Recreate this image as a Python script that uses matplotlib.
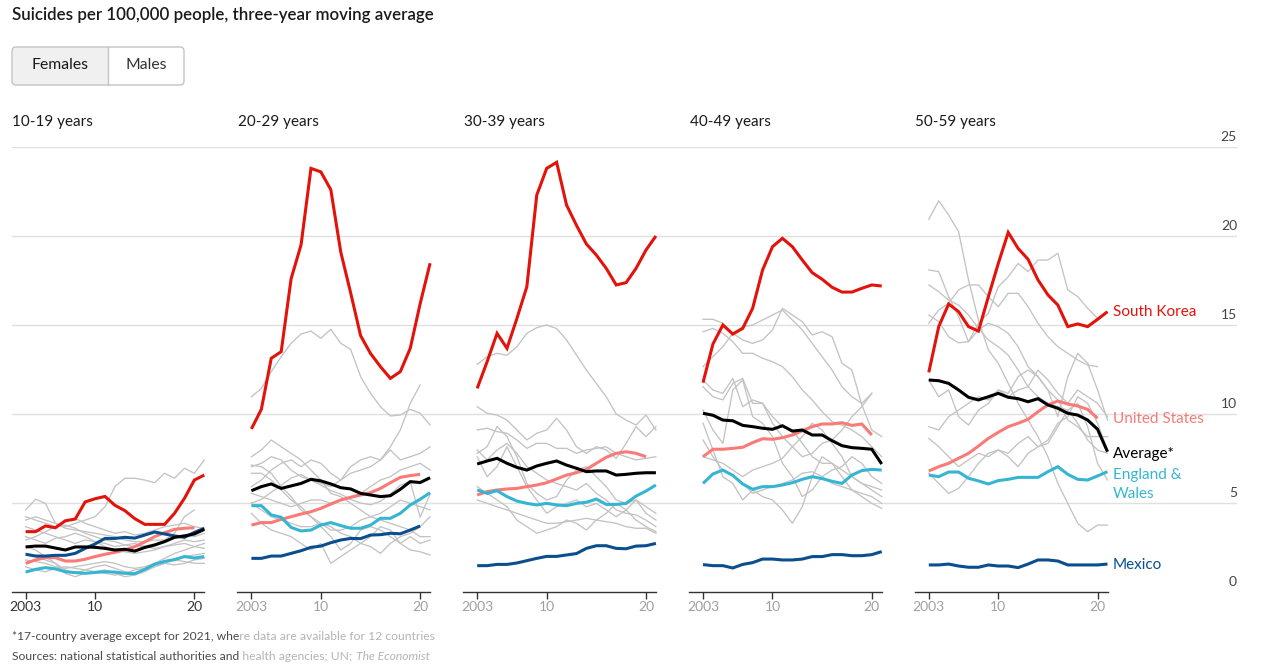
import matplotlib
matplotlib.use('Agg')
import matplotlib.pyplot as plt
from matplotlib.patches import FancyBboxPatch, Rectangle
from matplotlib.transforms import Bbox, TransformedBbox

plt.rcParams['font.family'] = ['Lato', 'DejaVu Sans']

# ---------------- data ----------------
years = list(range(2003, 2022))
panel_titles = ["10-19 years", "20-29 years", "30-39 years", "40-49 years", "50-59 years"]
tick_years = [2003, 2010, 2020]
tick_labels = ["2003", "10", "20"]
y_ticks = [0, 5, 10, 15, 20, 25]

# 10-19
sk1 = [3.39,3.39,3.71,3.61,4.0,4.1,5.06,5.24,5.37,4.87,4.57,4.12,3.80,3.80,3.80,4.42,5.26,6.29,6.57]
us1 = [1.61,1.80,1.93,1.93,1.74,1.74,1.84,1.99,2.12,2.23,2.36,2.55,2.81,3.11,3.33,3.52,3.58,3.61]
ew1 = [1.12,1.27,1.37,1.30,1.14,1.09,1.05,1.10,1.14,1.12,1.05,1.03,1.27,1.56,1.72,1.82,1.99,1.91,1.99]
mx1 = [2.12,2.02,2.02,2.06,2.06,2.17,2.45,2.70,3.01,3.01,3.07,3.03,3.20,3.37,3.26,3.15,3.07,3.35,3.58]
av1 = [2.53,2.58,2.58,2.47,2.36,2.53,2.53,2.51,2.45,2.36,2.40,2.30,2.50,2.64,2.83,3.07,3.15,3.26,3.52]
grey1 = [
    [4.04,4.23,4.04,3.86,3.67,3.86,4.04,4.23,4.79,5.92,6.39,6.39,6.29,6.14,6.67,6.39,6.95,6.67,7.42],
    [4.61,5.21,4.98,3.86,3.58,3.48,3.39,3.30,3.20,3.11,2.92,2.83,2.83,2.92,2.92,3.30,4.23,4.61],
    [4.23,4.04,3.86,3.67,3.95,4.14,3.86,3.67,3.48,3.30,3.39,3.20,3.30,3.48,3.67,3.76,3.86,3.67,3.58],
    [3.67,3.48,3.30,3.11,2.92,2.73,2.92,2.83,2.73,2.55,2.64,2.73,2.55,2.45,2.55,2.64,2.73,2.55,2.45],
    [3.11,2.92,2.73,3.02,3.11,3.30,3.11,2.83,2.55,2.36,2.26,2.17,2.26,2.36,2.55,2.73,2.92,2.83,2.92],
    [2.55,2.36,1.99,1.61,1.24,1.05,1.24,1.42,1.52,1.33,1.14,1.05,1.24,1.42,1.61,1.80,1.99,2.08,2.17],
    [2.17,1.99,1.80,1.61,1.05,0.86,1.05,1.14,1.24,1.05,0.86,0.95,1.14,1.42,1.61,1.52,1.61,1.80,1.89],
    [1.80,1.71,1.61,1.42,1.33,1.42,1.52,1.61,1.71,1.61,1.42,1.33,1.42,1.61,1.71,1.80,1.71,1.61,1.61],
    [1.42,1.24,1.14,1.33,1.42,1.33,1.24,1.14,1.05,0.95,1.05,1.24,1.33,1.61,1.89,2.17,2.36,2.55,2.73],
    [2.92,3.11,3.39,3.67,3.76,3.58,3.30,3.11,2.92,2.83,2.64,2.55,2.58,2.70,2.92,3.11,3.20,3.11,3.30],
]

# 20-29
sk2 = [9.16,10.26,13.13,13.5,17.6,19.5,23.8,23.6,22.6,19.1,16.8,14.4,13.4,12.66,12.0,12.38,13.69,16.2,18.47]
us2 = [3.76,3.90,3.90,4.08,4.23,4.38,4.51,4.70,4.94,5.17,5.32,5.45,5.58,5.82,6.14,6.44,6.54,6.61]
ew2 = [4.85,4.85,4.33,4.20,3.63,3.43,3.48,3.76,3.90,3.73,3.58,3.58,3.76,4.14,4.14,4.42,4.89,5.21,5.58]
mx2 = [1.89,1.89,2.02,2.02,2.17,2.32,2.51,2.58,2.77,2.92,3.01,3.00,3.20,3.22,3.30,3.27,3.48,3.71]
av2 = [5.69,5.92,6.07,5.82,5.96,6.10,6.33,6.24,6.07,5.86,5.79,5.54,5.45,5.36,5.41,5.77,6.20,6.15,6.42]
grey2 = [
    [10.97,11.44,12.38,13.22,13.97,14.49,14.66,14.25,14.76,13.97,13.63,12.10,11.16,10.41,9.89,9.94,10.26,10.04,9.38],
    [7.04,7.23,7.60,7.42,6.85,6.48,6.29,6.10,5.92,6.29,6.67,6.85,7.04,7.42,8.16,9.10,10.60,11.63],
    [7.60,7.98,8.54,8.16,7.79,7.42,6.85,6.29,5.54,5.36,4.98,4.61,4.23,4.04,3.86,3.67,3.48,3.11,3.11],
    [5.92,6.29,6.85,7.23,7.42,7.04,7.42,7.23,6.67,6.29,7.04,7.42,7.60,7.42,7.98,7.42,7.60,7.79,8.16],
    [7.13,7.04,6.67,5.92,5.36,4.61,4.23,3.86,3.48,3.48,3.67,4.04,4.23,4.42,4.79,5.17,4.98,4.79,4.61],
    [6.67,6.67,6.29,5.73,5.17,4.79,4.23,3.67,3.11,2.36,2.73,3.48,3.67,3.48,3.11,2.73,3.11,2.73,2.92],
    [5.54,5.36,5.17,4.98,4.79,4.98,5.17,5.17,4.98,5.17,5.36,5.54,5.92,6.29,6.48,6.85,7.04,7.23,6.85],
    [4.42,3.86,3.48,3.30,3.11,2.73,2.36,2.73,1.61,1.99,2.36,2.73,3.11,3.67,3.48,2.73,2.36,2.26,2.08],
    [4.98,4.61,4.23,4.04,3.86,3.67,3.67,3.86,3.67,3.30,3.11,2.73,2.55,2.17,2.73,3.11,3.30,3.67,4.23],
    [5.00,5.20,5.60,6.00,6.40,6.60,6.30,6.00,5.70,5.50,5.20,5.00,4.90,5.10,5.50,6.00,6.20,4.20,5.50],
]

# 30-39
sk3 = [11.44,12.94,14.53,13.69,15.37,17.15,22.3,23.8,24.14,21.74,20.6,19.55,18.93,18.18,17.25,17.38,18.18,19.21,20.0]
us3 = [5.45,5.64,5.73,5.79,5.82,5.92,6.01,6.14,6.35,6.57,6.70,6.89,7.23,7.57,7.79,7.88,7.79,7.60]
ew3 = [5.73,5.54,5.69,5.36,5.11,4.98,4.89,4.98,4.89,4.85,4.98,5.04,5.22,4.92,4.92,4.98,5.39,5.67,6.01]
mx3 = [1.48,1.48,1.55,1.55,1.63,1.76,1.89,2.00,2.00,2.08,2.16,2.45,2.60,2.60,2.45,2.43,2.58,2.60,2.73]
av3 = [7.19,7.36,7.51,7.23,7.00,6.85,7.08,7.23,7.36,7.13,6.95,6.76,6.80,6.80,6.57,6.61,6.67,6.70,6.70]
grey3 = [
    [12.79,13.22,13.41,13.30,13.78,14.53,14.85,15.00,14.80,14.16,13.31,12.47,11.72,10.97,10.00,9.66,9.38,9.94,9.10],
    [10.41,10.04,9.94,9.66,9.10,8.54,8.92,9.10,9.76,9.10,8.16,7.79,8.16,7.98,7.51,8.35,9.29,8.73,9.29],
    [9.10,9.20,9.01,8.92,8.54,8.07,8.35,8.35,8.07,8.07,7.79,7.98,8.07,8.16,7.79,7.60,7.42,7.51,7.60],
    [7.98,7.42,7.98,8.35,7.79,7.04,6.67,6.29,6.10,5.92,5.73,6.10,5.54,5.17,4.61,4.42,4.33,4.04,3.67],
    [7.60,6.48,7.04,8.16,7.04,5.92,5.17,4.42,4.79,4.98,5.17,4.79,4.98,4.61,4.23,4.61,5.17,4.42,4.04],
    [5.17,4.98,4.79,4.61,4.42,4.23,4.04,3.86,3.86,3.95,4.04,4.14,4.04,3.95,3.86,3.67,3.58,3.58,3.30],
    [5.92,5.54,5.17,4.79,4.04,3.67,3.30,3.48,3.67,4.04,3.86,3.48,4.04,4.42,4.98,4.61,4.04,3.67,3.39],
    [7.79,8.16,9.29,8.73,7.60,6.10,5.54,5.17,5.36,6.29,6.85,7.04,6.48,5.92,5.17,4.98,5.17,4.79,4.42],
]

# 40-49
sk4 = [11.76,13.93,15.0,14.49,14.81,15.94,18.09,19.4,19.87,19.4,18.65,17.94,17.57,17.12,16.85,16.85,17.06,17.25,17.19]
us4 = [7.60,8.02,8.02,8.07,8.13,8.39,8.61,8.58,8.67,8.82,9.06,9.29,9.44,9.44,9.51,9.36,9.44,8.82]
ew4 = [6.10,6.63,6.85,6.55,6.07,5.77,5.92,5.92,6.01,6.14,6.33,6.48,6.37,6.22,6.10,6.57,6.82,6.89,6.85]
mx4 = [1.54,1.48,1.48,1.35,1.55,1.65,1.85,1.85,1.80,1.80,1.85,1.99,1.99,2.10,2.10,2.04,2.04,2.10,2.27]
av4 = [10.04,9.93,9.66,9.62,9.36,9.29,9.20,9.14,9.34,9.04,9.10,8.82,8.82,8.50,8.22,8.11,8.07,8.02,7.19]
grey4 = [
    [15.32,15.32,15.10,14.53,14.16,13.97,14.16,14.72,15.94,15.56,15.19,14.44,14.62,14.34,12.85,12.47,10.51,9.10,8.73],
    [14.62,14.81,14.53,14.06,13.41,13.41,13.13,12.94,12.66,12.10,11.35,10.79,10.13,9.57,9.38,9.10,8.73,8.16,7.60],
    [12.66,13.22,13.78,14.53,14.90,15.00,15.28,15.56,15.84,15.28,14.72,13.97,13.22,12.47,11.53,10.97,10.60,11.16],
    [11.91,11.35,11.16,12.00,10.41,10.79,10.60,9.85,9.29,9.10,8.35,7.60,7.23,7.23,6.85,6.48,6.10,5.73,5.36],
    [11.53,10.97,10.79,11.72,12.00,10.60,10.60,9.48,8.73,8.16,7.60,7.79,8.35,8.54,9.10,9.85,10.41,11.16],
    [9.48,7.98,6.48,6.10,5.17,5.73,5.36,5.17,4.61,3.86,4.79,6.48,7.60,7.23,6.48,5.73,5.54,5.36,4.98],
    [8.54,7.60,6.85,6.57,6.10,5.54,5.73,5.92,6.10,6.29,6.67,6.76,6.48,6.10,5.92,5.73,5.36,4.98,4.70],
    [7.60,7.42,7.23,6.85,6.48,6.85,7.04,7.23,7.51,8.16,8.73,9.48,9.10,8.35,7.60,6.48,6.10,5.92,5.73],
    [10.22,9.10,8.35,11.35,11.91,9.85,9.48,8.73,7.23,6.48,5.36,5.73,6.48,6.85,7.04,7.60,7.23,6.48,6.10],
]

# 50-59
sk5 = [12.34,14.91,16.18,15.75,14.91,14.66,16.59,18.46,20.2,19.3,18.69,17.53,16.69,16.12,14.91,15.06,14.91,15.32,15.75]
us5 = [6.80,7.04,7.23,7.51,7.79,8.20,8.63,8.97,9.29,9.48,9.70,10.13,10.51,10.73,10.56,10.45,10.26,9.76]
ew5 = [6.57,6.48,6.74,6.74,6.39,6.24,6.07,6.26,6.33,6.44,6.44,6.44,6.76,7.04,6.61,6.33,6.29,6.52,6.76]
mx5 = [1.52,1.52,1.57,1.46,1.39,1.39,1.52,1.46,1.46,1.37,1.57,1.80,1.80,1.74,1.52,1.52,1.52,1.52,1.57]
av5 = [11.91,11.87,11.72,11.35,10.94,10.79,10.97,11.16,10.94,10.86,10.69,10.86,10.51,10.32,10.04,9.94,9.66,9.14,7.88]
grey5 = [
    [20.94,21.98,21.18,20.24,17.53,15.28,13.60,12.85,11.72,10.60,9.66,8.73,7.60,6.10,4.98,3.86,3.39,3.76,3.76],
    [18.09,18.00,16.59,15.47,14.06,15.10,15.66,17.15,17.71,18.46,18.00,18.65,18.65,19.03,16.97,16.59,15.94,15.37],
    [17.25,16.87,16.40,16.12,15.56,14.81,14.16,13.78,13.31,12.47,11.53,10.97,10.60,10.41,10.22,9.48,8.54,7.98,7.79],
    [15.56,15.19,14.34,14.00,14.06,14.72,15.10,14.90,14.53,13.78,12.66,12.10,11.35,10.79,9.66,9.29,8.73,8.73,8.73],
    [15.10,15.84,16.22,16.97,17.25,17.25,16.59,16.03,16.78,16.78,16.03,15.10,14.34,13.78,13.41,13.03,12.75,12.66],
    [11.91,10.97,11.35,9.85,9.38,10.22,10.60,11.35,10.97,11.35,11.53,12.47,11.91,11.16,10.60,11.35,10.97,10.60,9.85],
    [9.29,9.10,9.85,10.22,10.60,10.97,10.79,11.35,11.16,12.10,12.47,12.10,11.35,9.85,12.10,13.41,12.85,11.35,9.66],
    [8.63,8.16,7.60,7.04,7.42,7.79,7.60,7.98,7.79,8.35,8.73,8.16,8.54,9.48,9.85,10.97,10.60,9.48,7.98],
    [6.67,6.10,5.54,5.82,6.48,7.23,7.79,7.98,7.60,7.04,7.79,8.16,8.35,9.29,10.22,10.60,9.29,7.23,6.29],
]

panels = [
    dict(sk=sk1, us=us1, ew=ew1, mx=mx1, av=av1, grey=grey1),
    dict(sk=sk2, us=us2, ew=ew2, mx=mx2, av=av2, grey=grey2),
    dict(sk=sk3, us=us3, ew=ew3, mx=mx3, av=av3, grey=grey3),
    dict(sk=sk4, us=us4, ew=ew4, mx=mx4, av=av4, grey=grey4),
    dict(sk=sk5, us=us5, ew=ew5, mx=mx5, av=av5, grey=grey5),
]

C_SK = '#e3120b'
C_US = '#f97a76'
C_EW = '#36b5d3'
C_MX = '#0b4e8e'
C_AV = '#000000'
C_GREY = '#c3c3c3'

# ---------------- layout ----------------
W, H = 1280, 668
fig = plt.figure(figsize=(12.8, 6.68), dpi=100)
fig.patch.set_facecolor('white')

def fx(x):
    return x / W

def fy(y):
    return 1 - y / H

Y_BASE = 592
PLOT_H = 445

# background gridlines spanning the full width
bg = fig.add_axes([fx(12), fy(Y_BASE), fx(1237 - 12), PLOT_H / H])
bg.set_xlim(0, 1)
bg.set_ylim(0, 25)
bg.axis('off')
for v in y_ticks[1:]:
    bg.axhline(v, color='#e0e0e0', lw=1.0, zorder=0)
for v in y_ticks:
    yp = Y_BASE - v * PLOT_H / 25 - 10
    fig.text(fx(1237), fy(yp), str(v), ha='right', va='center', fontsize=10, color='#444444')

panel_left0 = 11.7
panel_step = 225.8
panel_w = 192.6

for i, p in enumerate(panels):
    L = panel_left0 + i * panel_step
    ax = fig.add_axes([fx(L), fy(Y_BASE), fx(panel_w), PLOT_H / H])
    ax.patch.set_alpha(0)
    ax.set_xlim(2001.6, 2021.0)
    ax.set_ylim(0, 25)
    for s in ['top', 'right', 'left']:
        ax.spines[s].set_visible(False)
    ax.spines['bottom'].set_color('#333333')
    ax.spines['bottom'].set_linewidth(1.0)
    ax.set_yticks([])
    ax.set_xticks(tick_years)
    ax.set_xticklabels(tick_labels)
    lab_col = '#333333' if i == 0 else '#a0a0a0'
    ax.tick_params(axis='x', length=4.8, width=1.0, color='#333333', pad=2,
                   labelsize=10, labelcolor=lab_col)

    for g in p['grey']:
        ax.plot(years[:len(g)], g, color=C_GREY, lw=0.95, zorder=1, clip_on=False)
    for key, col, z in [('us', C_US, 3), ('ew', C_EW, 4), ('mx', C_MX, 5), ('av', C_AV, 6), ('sk', C_SK, 7)]:
        vals = p[key]
        ax.plot(years[:len(vals)], vals, color=col, lw=2.2, zorder=z, clip_on=False,
                solid_joinstyle='miter', solid_capstyle='butt')

    fig.text(fx(L + 0.5), fy(122), panel_titles[i], ha='left', va='center', fontsize=11, color='#1a1a1a')

# end labels on last panel
for txt, y, col in [('South Korea', 312, C_SK), ('United States', 419, C_US),
                    ('Average*', 454, C_AV), ('England &', 475, C_EW),
                    ('Wales', 494, C_EW), ('Mexico', 565, C_MX)]:
    fig.text(fx(1113), fy(y), txt, ha='left', va='center', fontsize=11, color=col)

# title
fig.text(fx(12), fy(15), 'Suicides per 100,000 people, three-year moving average',
         ha='left', va='center', fontsize=12.2, fontweight='semibold', color='#1a1a1a')

# toggle buttons (drawn in inches via dpi_scale_trans)
tr = fig.dpi_scale_trans
def inx(x): return x / 100
def iny(y): return (H - y) / 100
bx0, bx1, by0, by1, bdiv = 12, 184, 47, 85, 108
left_fill = FancyBboxPatch((inx(bx0), iny(by1)), inx(bdiv - bx0), (by1 - by0) / 100,
                           boxstyle='round,pad=0,rounding_size=0.04', transform=tr,
                           facecolor='#f0f0f0', edgecolor='none', zorder=1)
fig.patches.append(left_fill)
fig.patches.append(Rectangle((inx(bdiv - 8), iny(by1)), 0.08, (by1 - by0) / 100, transform=tr,
                             facecolor='#f0f0f0', edgecolor='none', zorder=1))
border = FancyBboxPatch((inx(bx0), iny(by1)), inx(bx1 - bx0), (by1 - by0) / 100,
                        boxstyle='round,pad=0,rounding_size=0.04', transform=tr,
                        facecolor='none', edgecolor='#c4c4c4', lw=1.0, zorder=2)
fig.patches.append(border)
fig.lines.append(plt.Line2D([inx(bdiv), inx(bdiv)], [iny(by1), iny(by0)], transform=tr,
                            color='#c4c4c4', lw=1.0, zorder=2))
fig.text(fx(60), fy(65), 'Females', ha='center', va='center', fontsize=11.3, color='#1a1a1a')
fig.text(fx(146), fy(65), 'Males', ha='center', va='center', fontsize=11.3, color='#333333')

# footer with a faded right part; the fade starts right after "...2021, whe"
foot1 = '*17-country average except for 2021, where data are available for 12 countries'
foot2 = 'Sources: national statistical authorities and health agencies; UN;'
FOOT_FS = 8.7
probe = fig.text(fx(12), fy(636), '*17-country average except for 2021, whe',
                 ha='left', va='center', fontsize=FOOT_FS, alpha=0)
fig.canvas.draw()
FADE_PX = probe.get_window_extent().x1
probe.remove()
clip_dark = TransformedBbox(Bbox.from_extents(0, 0, FADE_PX / W, 1), fig.transFigure)
clip_light = TransformedBbox(Bbox.from_extents(FADE_PX / W, 0, 1, 1), fig.transFigure)
for txt, y in [(foot1, 636), (foot2, 656)]:
    for col, cb in [('#4a4a4a', clip_dark), ('#b4b4b4', clip_light)]:
        t = fig.text(fx(12), fy(y), txt, ha='left', va='center', fontsize=FOOT_FS, color=col)
        t.set_clip_box(cb)
        t.set_clip_on(True)
        last = t
fig.canvas.draw()
bb = last.get_window_extent()
fig.text(fx(bb.x1 + 3.5), fy(656), 'The Economist', ha='left', va='center', fontsize=FOOT_FS,
         style='italic', color='#b4b4b4')

fig.savefig('out.png', dpi=100, facecolor='white')
